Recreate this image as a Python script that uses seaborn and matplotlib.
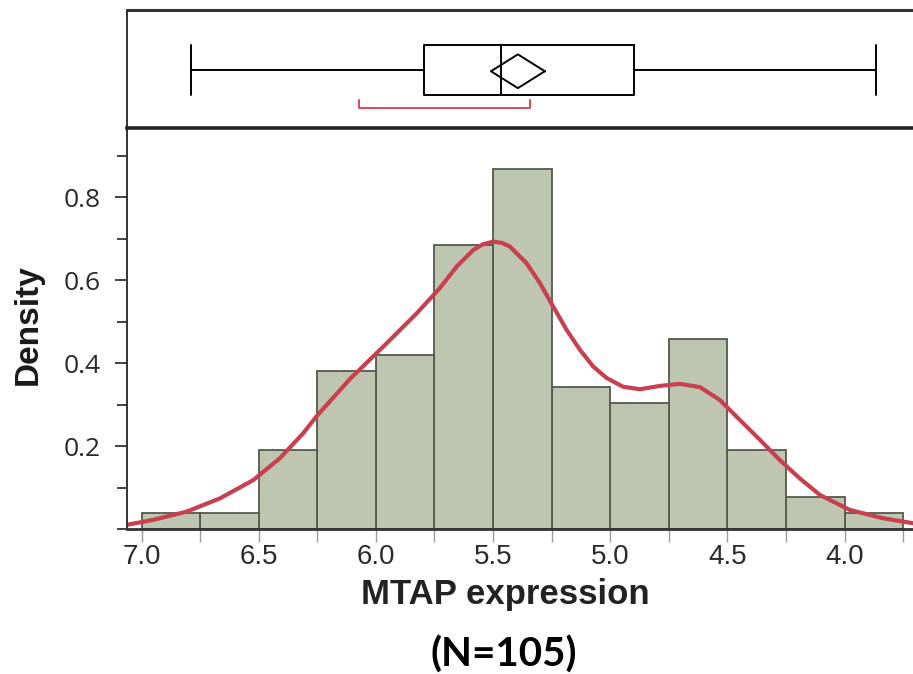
import numpy as np
import pandas as pd
import matplotlib
matplotlib.use("Agg")
import matplotlib.pyplot as plt
from matplotlib.ticker import MultipleLocator
import seaborn as sns

# ---------------- data ----------------
bin_lo = 3.75
bin_hi = 7.0
bin_width = 0.25
# histogram densities, bins ascending from 3.75 to 7.0
densities = [0.038, 0.076, 0.190, 0.457, 0.305, 0.343, 0.867,
             0.686, 0.419, 0.381, 0.190, 0.038, 0.038]

# density curve
curve_x = [7.063, 6.950, 6.807, 6.665, 6.523, 6.409, 6.310, 6.253, 6.196,
           6.110, 5.968, 5.826, 5.727, 5.655, 5.584, 5.542, 5.499, 5.463,
           5.428, 5.357, 5.300, 5.243, 5.186, 5.129, 5.073, 5.015, 4.945,
           4.873, 4.788, 4.703, 4.617, 4.532, 4.447, 4.361, 4.276, 4.191,
           4.105, 3.978, 3.836, 3.709]
curve_y = [0.010, 0.022, 0.042, 0.074, 0.118, 0.171, 0.231, 0.272, 0.308,
           0.362, 0.440, 0.520, 0.581, 0.633, 0.673, 0.687, 0.693, 0.690,
           0.681, 0.641, 0.593, 0.536, 0.480, 0.432, 0.392, 0.364, 0.343,
           0.337, 0.345, 0.350, 0.342, 0.311, 0.263, 0.215, 0.166, 0.122,
           0.082, 0.046, 0.026, 0.014]

# box plot summary: low whisker, Q1, median, Q3, high whisker
box_values = [3.867, 4.899, 5.466, 5.795, 6.789]
mean_value = 5.394
mean_ci_half = 0.115
shortest_half = [6.072, 5.342]

x_ticks = [7.0, 6.5, 6.0, 5.5, 5.0, 4.5, 4.0]
y_ticks = [0.2, 0.4, 0.6, 0.8]

# ---------------- style ----------------
sns.set_style("white")
plt.rcParams["font.family"] = ["Liberation Sans", "DejaVu Sans"]

W, H = 913, 674
fig = plt.figure(figsize=(W / 100, H / 100), dpi=100)

left = 127 / W
ax = fig.add_axes([left, 1 - 529 / H, 1.0 - left, (529 - 128) / H])
ax_top = fig.add_axes([left, 1 - 128 / H, 1.0 - left, (128 - 10) / H])

bar_fill = "#bec5b0"
bar_edge = "#55584c"
red = "#c8404f"

centers = bin_lo + bin_width * (np.arange(len(densities)) + 0.5)
hist_df = pd.DataFrame({"x": centers, "w": densities})
sns.histplot(data=hist_df, x="x", weights="w", binwidth=bin_width,
             binrange=(bin_lo, bin_hi), ax=ax,
             color=bar_fill, edgecolor=bar_edge, linewidth=1.3, alpha=1.0)
sns.lineplot(x=curve_x, y=curve_y, ax=ax, color=red, linewidth=3.0,
             sort=False, estimator=None)

xlim = (7.062, 3.708)
ax.set_xlim(*xlim)
ax.set_ylim(0, 0.967)
ax.set_xlabel("")
ax.set_ylabel("")

ax.set_yticks(y_ticks)
ax.set_yticklabels([f"{v:.1f}" for v in y_ticks])
ax.yaxis.set_minor_locator(MultipleLocator(0.1))
ax.set_xticks(x_ticks)
ax.set_xticklabels([f"{v:.1f}" for v in x_ticks])
ax.xaxis.set_minor_locator(MultipleLocator(0.25))

ax.tick_params(axis="y", which="both", direction="out", left=True,
               color="#333333", width=1.3, labelsize=19, labelcolor="#2a2a2a",
               pad=10)
ax.tick_params(axis="y", which="major", length=9)
ax.tick_params(axis="y", which="minor", length=7)
ax.tick_params(axis="x", which="both", direction="out", bottom=True,
               color="#9a9a9a", width=1.0, length=9, pad=2)
for lab in ax.get_xticklabels():
    lab.set_fontfamily(["Liberation Sans Narrow", "Liberation Sans"])
    lab.set_fontsize(20)
    lab.set_color("#2a2a2a")
for lab in ax.get_yticklabels():
    lab.set_fontfamily(["Open Sans", "DejaVu Sans"])

for s in ["top", "right"]:
    ax.spines[s].set_visible(False)
ax.spines["left"].set_color("#333333")
ax.spines["left"].set_linewidth(1.4)
ax.spines["bottom"].set_color("#333333")
ax.spines["bottom"].set_linewidth(2.0)

# ---------------- top box panel ----------------
sns.boxplot(x=box_values, ax=ax_top, whis=1.5, fill=False, color="black",
            linewidth=1.4, width=0.8, capwidths=0.8)
ax_top.set_xlim(*xlim)
ax_top.set_ylim(0.928, -0.96)
ax_top.set_xticks([])
ax_top.set_yticks([])
ax_top.set_xlabel("")
ax_top.set_ylabel("")

# mean diamond
dh = 0.27
ax_top.plot([mean_value - mean_ci_half, mean_value, mean_value + mean_ci_half,
             mean_value, mean_value - mean_ci_half],
            [0.02, 0.02 - dh, 0.02, 0.02 + dh, 0.02],
            color="black", linewidth=1.4)
# shortest half bracket
yb, yt = 0.61, 0.48
ax_top.plot([shortest_half[0], shortest_half[0], shortest_half[1], shortest_half[1]],
            [yt, yb, yb, yt], color="#d9464f", linewidth=1.4)

ax_top.spines["right"].set_visible(False)
ax_top.spines["left"].set_color("#333333")
ax_top.spines["left"].set_linewidth(1.4)
ax_top.spines["top"].set_color("#333333")
ax_top.spines["top"].set_linewidth(2.2)
ax_top.spines["bottom"].set_color("#222222")
ax_top.spines["bottom"].set_linewidth(2.6)

# ---------------- labels ----------------
fig.text(28 / W, 1 - 325 / H, "Density", rotation=90, ha="center",
         va="center", fontsize=24, fontweight="bold", color="#1a1a1a")
fig.text(505 / W, 1 - 604 / H, "MTAP expression", ha="center",
         va="baseline", fontsize=25, fontweight="bold", color="#222222")
fig.text(504 / W, 1 - 667 / H, "(N=105)", ha="center", va="baseline",
         fontsize=29, fontweight="bold", color="black",
         family=["Lato", "DejaVu Sans"])

fig.savefig("out.png", dpi=100, facecolor="white")
